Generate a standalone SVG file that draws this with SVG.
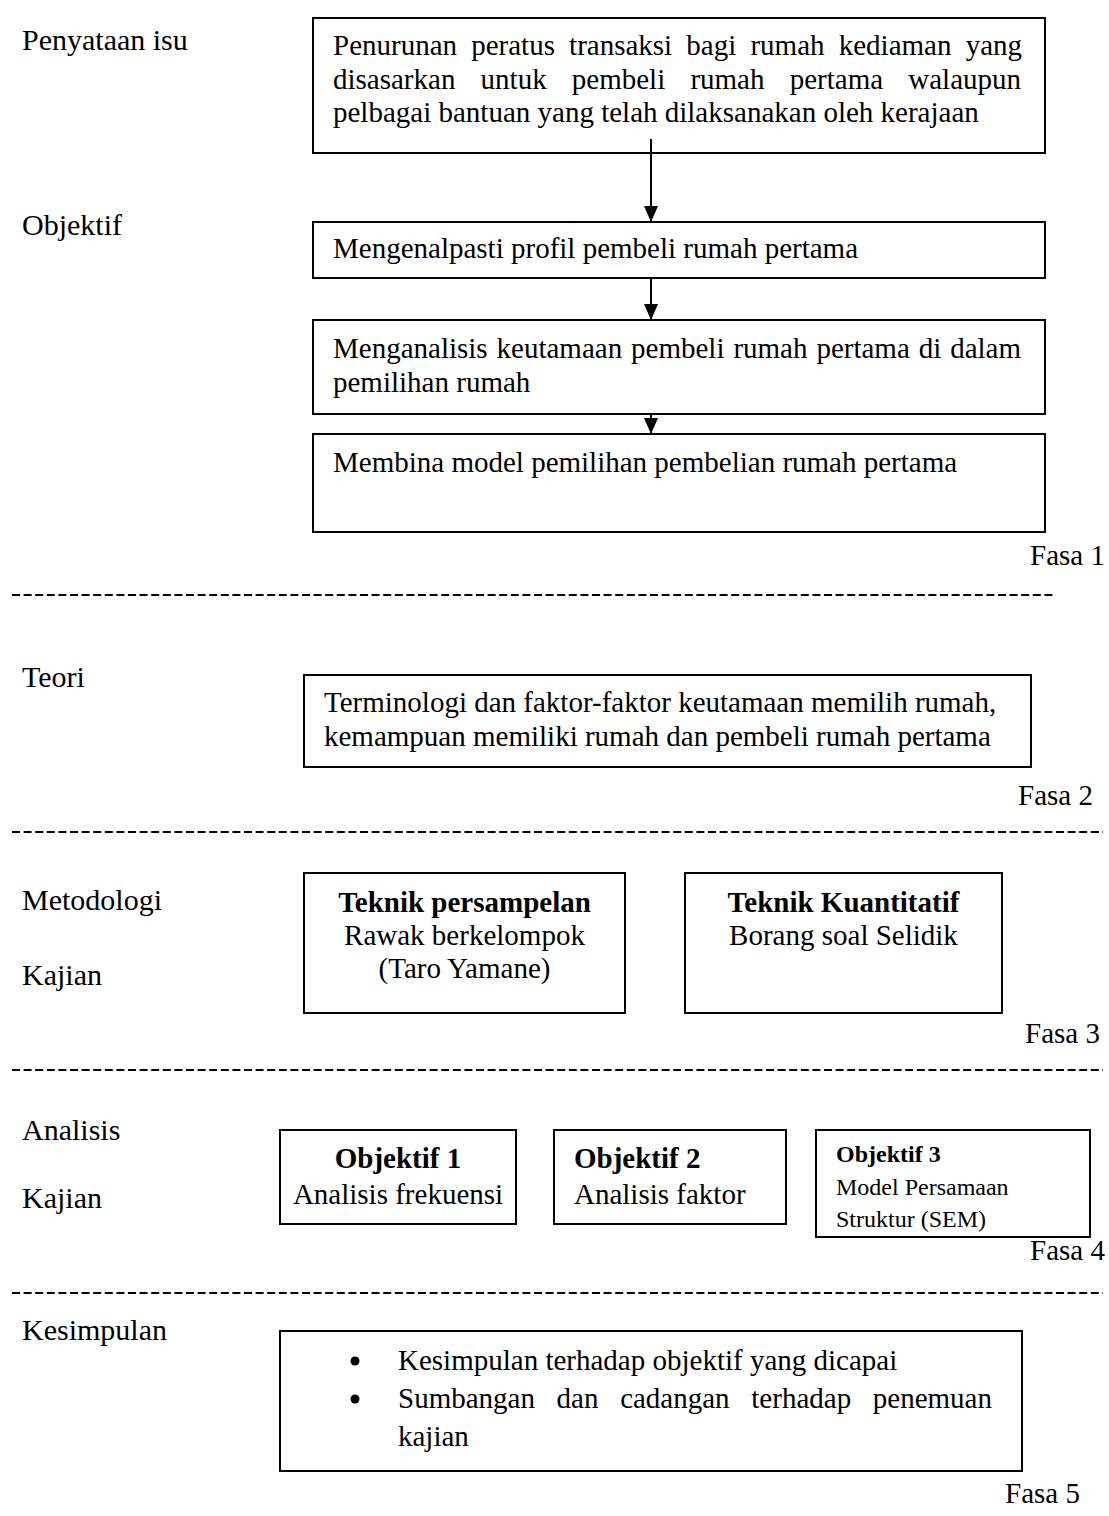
<svg xmlns="http://www.w3.org/2000/svg" width="1109" height="1516" viewBox="0 0 1109 1516">
<style>
text{font-family:"Liberation Serif","Times New Roman",serif;font-size:29px;fill:#000}
.lbl{font-size:30px}
.b{font-weight:bold}
.sm{font-size:24px}
.mid{text-anchor:middle}
.end{text-anchor:end}
.box{fill:none;stroke:#000;stroke-width:2}
.dash{stroke:#000;stroke-width:2;stroke-dasharray:8 3.6;fill:none}
.conn{stroke:#000;stroke-width:2;fill:none}
</style>
<defs>
<marker id="ah" markerWidth="16" markerHeight="14" refX="16" refY="7" orient="auto" markerUnits="userSpaceOnUse" viewBox="0 0 16 14">
<path d="M0,0 L16,7 L0,14 Z" fill="#000"/>
</marker>
</defs>
<rect width="1109" height="1516" fill="#fff"/>

<g id="labels">
<text class="lbl" x="22" y="50">Penyataan isu</text>
<text class="lbl" x="22" y="235">Objektif</text>
<text class="lbl" x="22" y="687">Teori</text>
<text class="lbl" x="22" y="910">Metodologi</text>
<text class="lbl" x="22" y="985">Kajian</text>
<text class="lbl" x="22" y="1140">Analisis</text>
<text class="lbl" x="22" y="1208">Kajian</text>
<text class="lbl" x="22" y="1340">Kesimpulan</text>
</g>

<g id="phases">
<text class="end" x="1105" y="565">Fasa 1</text>
<text class="end" x="1093" y="805">Fasa 2</text>
<text class="end" x="1100" y="1043">Fasa 3</text>
<text class="end" x="1105" y="1260">Fasa 4</text>
<text class="end" x="1080" y="1503">Fasa 5</text>
</g>

<g id="dividers">
<line class="dash" x1="12" y1="595" x2="1053" y2="595"/>
<line class="dash" x1="12" y1="832" x2="1103" y2="832"/>
<line class="dash" x1="12" y1="1070" x2="1103" y2="1070"/>
<line class="dash" x1="12" y1="1293" x2="1103" y2="1293"/>
</g>

<g id="connectors">
<line class="conn" x1="651" y1="139" x2="651" y2="222" marker-end="url(#ah)"/>
<line class="conn" x1="651" y1="278" x2="651" y2="320" marker-end="url(#ah)"/>
<line class="conn" x1="651" y1="414" x2="651" y2="434" marker-end="url(#ah)"/>
</g>

<g id="n-isu">
<rect class="box" x="313" y="18" width="732" height="135"/>
<text y="55"><tspan x="333">Penurunan</tspan><tspan x="471.19">peratus</tspan><tspan x="569.1">transaksi</tspan><tspan x="686.36">bagi</tspan><tspan x="750.46">rumah</tspan><tspan x="838.72">kediaman</tspan><tspan x="965.63">yang</tspan></text>
<text y="89"><tspan x="333">disasarkan</tspan><tspan x="480.58">untuk</tspan><tspan x="571.81">pembeli</tspan><tspan x="690.42">rumah</tspan><tspan x="789.69">pertama</tspan><tspan x="908.27">walaupun</tspan></text>
<text x="333" y="122">pelbagai bantuan yang telah dilaksanakan oleh kerajaan</text>
</g>

<g id="n-obj1">
<rect class="box" x="313" y="222" width="732" height="56"/>
<text x="333" y="258">Mengenalpasti profil pembeli rumah pertama</text>
</g>

<g id="n-obj2">
<rect class="box" x="313" y="320" width="732" height="94"/>
<text y="358"><tspan x="333">Menganalisis</tspan><tspan x="496.55">keutamaan</tspan><tspan x="631.07">pembeli</tspan><tspan x="733.4">rumah</tspan><tspan x="816.39">pertama</tspan><tspan x="918.69">di</tspan><tspan x="950.14">dalam</tspan></text>
<text x="333" y="392">pemilihan rumah</text>
</g>

<g id="n-obj3">
<rect class="box" x="313" y="434" width="732" height="98"/>
<text x="333" y="472">Membina model pemilihan pembelian rumah pertama</text>
</g>

<g id="n-teori">
<rect class="box" x="304" y="675" width="727" height="92"/>
<text x="324" y="712">Terminologi dan faktor-faktor keutamaan memilih rumah,</text>
<text x="324" y="746">kemampuan memiliki rumah dan pembeli rumah pertama</text>
</g>

<g id="n-sampel">
<rect class="box" x="304" y="873" width="321" height="140"/>
<text class="b mid" x="464.5" y="912">Teknik persampelan</text>
<text class="mid" x="464.5" y="945">Rawak berkelompok</text>
<text class="mid" x="464.5" y="978">(Taro Yamane)</text>
</g>

<g id="n-kuanti">
<rect class="box" x="685" y="873" width="317" height="140"/>
<text class="b mid" x="843.5" y="912">Teknik Kuantitatif</text>
<text class="mid" x="843.5" y="945">Borang soal Selidik</text>
</g>

<g id="n-a1">
<rect class="box" x="280" y="1130" width="236" height="94"/>
<text class="b mid" x="398" y="1168">Objektif 1</text>
<text class="mid" x="398" y="1204">Analisis frekuensi</text>
</g>

<g id="n-a2">
<rect class="box" x="554" y="1130" width="232" height="94"/>
<text class="b" x="574" y="1168">Objektif 2</text>
<text x="574" y="1204">Analisis faktor</text>
</g>

<g id="n-a3">
<rect class="box" x="816" y="1130" width="274" height="107"/>
<text class="b sm" x="836" y="1162">Objektif 3</text>
<text class="sm" x="836" y="1195">Model Persamaan</text>
<text class="sm" x="836" y="1227">Struktur (SEM)</text>
</g>

<g id="n-kesimpulan">
<rect class="box" x="280" y="1331" width="742" height="140"/>
<circle cx="355" cy="1361" r="4.5"/>
<circle cx="355" cy="1399" r="4.5"/>
<text x="398" y="1370">Kesimpulan terhadap objektif yang dicapai</text>
<text y="1408"><tspan x="398">Sumbangan</tspan><tspan x="556.6">dan</tspan><tspan x="620.14">cadangan</tspan><tspan x="751.3">terhadap</tspan><tspan x="872.81">penemuan</tspan></text>
<text x="398" y="1446">kajian</text>
</g>
</svg>
